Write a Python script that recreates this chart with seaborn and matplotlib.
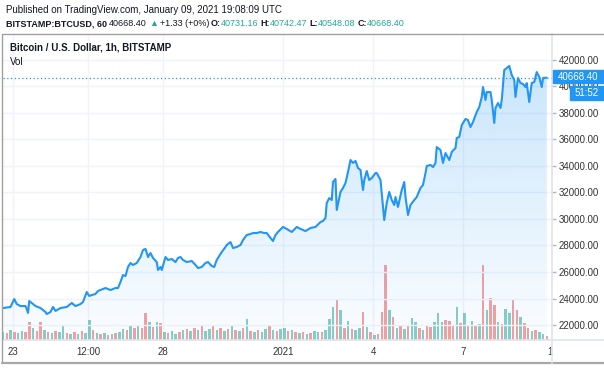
import numpy as np
import pandas as pd
import seaborn as sns
import matplotlib.pyplot as plt
from matplotlib import transforms
from matplotlib.colors import to_rgb
from matplotlib.lines import Line2D
from matplotlib.patches import Rectangle, Polygon

# price readings: hours after 2020-12-23 00:00 UTC and BTCUSD price
hours = [-8, -2, 1, 3, 6, 10, 11, 12, 13, 15,
         18, 22, 26, 27, 30, 32, 34, 38, 43, 47,
         50, 54, 56, 59, 61, 63, 66, 68, 74, 78,
         82, 84, 86, 88, 90, 92, 94, 96, 99, 102,
         104, 106, 108, 110, 112, 115, 116, 118, 119, 122,
         124, 127, 130, 132, 134, 136, 139, 143, 146, 148,
         151, 154, 156, 159, 161, 163, 167, 170, 171, 174,
         176, 179, 182, 184, 187, 190, 192, 195, 198, 201,
         203, 206, 208, 210, 212, 216, 219, 223, 227, 230,
         234, 238, 242, 246, 248, 250, 251, 253, 255, 256,
         258, 259, 262, 264, 266, 268, 270, 272, 274, 276,
         278, 280, 281, 283, 285, 287, 290, 291, 294, 295,
         297, 299, 301, 303, 305, 306, 308, 311, 313, 314,
         316, 318, 321, 323, 326, 328, 330, 331, 334, 336,
         338, 339, 342, 344, 346, 349, 351, 354, 355, 357,
         359, 362, 364, 366, 368, 371, 373, 375, 376, 378,
         379, 382, 383, 385, 386, 388, 390, 391, 393, 395,
         397, 399, 401, 402, 404, 406, 408, 410, 411, 413,
         415, 417, 419, 421, 423, 424, 427]
price = [23280, 23360, 23960, 23580, 23430, 23430, 23210, 22910, 23810, 23660,
         23430, 23280, 22980, 22830, 22980, 23360, 23060, 23280, 23360, 23660,
         23430, 23580, 23740, 24490, 24190, 24260, 24340, 24570, 24790, 24640,
         24790, 24790, 25250, 25770, 25700, 26380, 26680, 26530, 26680, 27130,
         27660, 27740, 27130, 27430, 27060, 26750, 26150, 26380, 26150, 27130,
         26910, 26980, 26750, 27060, 27130, 26910, 26750, 26830, 26530, 26300,
         26380, 26680, 26750, 26450, 26380, 26910, 27510, 27890, 28040, 28260,
         27810, 27890, 28040, 28410, 28790, 28870, 28940, 28940, 29020, 28940,
         28940, 28570, 28340, 28790, 29020, 29400, 29250, 29020, 29400, 29250,
         29090, 29320, 29400, 29770, 29850, 30080, 31210, 31580, 31430, 32790,
         33020, 30680, 32040, 32340, 32720, 33550, 34450, 34230, 34380, 33850,
         33700, 32190, 32940, 33620, 32940, 33090, 33470, 33470, 32940, 31960,
         29920, 31210, 32040, 31430, 31060, 31660, 30910, 32190, 32790, 31660,
         30300, 31060, 31430, 31660, 32340, 32570, 33470, 34000, 34080, 33920,
         34230, 35430, 35210, 34230, 34980, 34450, 35060, 35360, 36110, 36190,
         37090, 37550, 37470, 36940, 37320, 38080, 38450, 39210, 39960, 38980,
         39580, 39580, 38980, 37250, 38380, 38750, 38380, 38980, 41240, 41400,
         41550, 40870, 40490, 39210, 40640, 40260, 40190, 39960, 40260, 38830,
         40260, 40340, 41090, 40720, 39960, 40640, 40668.40]

# volume, one reading every 3 hours starting 2020-12-22 16:00
vol_start = -8
vol_step = 3
volume = [320, 280, 400, 320, 280, 360, 320, 720, 480, 360,
          720, 400, 320, 280, 360, 320, 600, 280, 240, 320,
          240, 360, 280, 800, 400, 280, 240, 280, 200, 240,
          280, 320, 440, 400, 600, 480, 600, 480, 1080, 720,
          520, 720, 680, 320, 280, 360, 240, 320, 400, 440,
          360, 480, 400, 560, 360, 440, 560, 400, 480, 360,
          440, 560, 400, 360, 480, 840, 360, 320, 400, 320,
          440, 560, 400, 360, 440, 480, 360, 400, 320, 280,
          320, 240, 280, 360, 320, 320, 400, 840, 1320, 1640,
          1200, 480, 760, 440, 400, 480, 1120, 520, 320, 200,
          240, 1120, 3040, 1200, 920, 480, 560, 440, 600, 880,
          720, 480, 400, 600, 520, 720, 1080, 720, 800, 760,
          560, 1320, 680, 1080, 560, 760, 600, 640, 3040, 1200,
          1720, 1400, 720, 640, 1240, 1080, 1640, 1200, 920, 680,
          480, 360, 400, 320, 240, 160]
# candle direction of each volume bar (u = up / green, d = down / red)
vol_dir = ('ududuuddud' 'dududuudud' 'uduudududu' 'duudududdu' 'dududuudud'
           'ududuududu' 'dududududu' 'ududuududu' 'duduuduuud' 'ududuududu'
           'dddudududu' 'ududduuudd' 'dududududu' 'dduduuddud' 'duduud')

price_ticks = [22000, 24000, 26000, 28000, 30000, 32000,
               34000, 36000, 38000, 40000, 42000]
time_ticks = [0, 60, 120, 216, 288, 360]
time_labels = ['23', '12:00', '28', '2021', '4', '7']
last_close = 40668.40
countdown = '51:52'

header = 'Published on TradingView.com, January 09, 2021 19:08:09 UTC'
title = 'Bitcoin / U.S. Dollar, 1h, BITSTAMP'

blue = '#2196f3'
teal = '#26a69a'
red = '#ef5350'
ink = '#131722'
grid = '#f0f3fa'

sns.set_style('white')
plt.rcParams['font.family'] = ['Liberation Sans', 'DejaVu Sans']

W, H = 604, 368
fig = plt.figure(figsize=(W / 100, H / 100), dpi=100)


def fx(px):
    return px / W


def fy(py):
    return 1 - py / H


ax = fig.add_axes([fx(3), fy(340), fx(552) - fx(3), fy(34) - fy(340)])
axv = ax.twinx()
ax.set_zorder(axv.get_zorder() + 1)
ax.patch.set_visible(False)

x0, x1 = -8, 431.2
y0, y1 = 20868, 43962

# volume bars
vol_hours = vol_start + vol_step * np.arange(len(volume))
bar_colors = [teal if d == 'u' else red for d in vol_dir]
axv.bar(vol_hours, volume, width=2.0, color=bar_colors, alpha=0.55, linewidth=0, zorder=2)
axv.set_ylim(0, max(volume) * 306 / 75)
axv.set_yticks([])
for s in axv.spines.values():
    s.set_visible(False)
for t in time_ticks + [432]:
    axv.axvline(t, color=grid, lw=1, zorder=0)

# gradient area under the line
rgba = np.zeros((256, 1, 4))
rgba[..., :3] = to_rgb(blue)
rgba[:, 0, 3] = np.linspace(0.27, 0.02, 256)
im = ax.imshow(rgba, extent=[x0, x1, y0, y1], aspect='auto', origin='upper',
               interpolation='bilinear', zorder=1)
verts = [(hours[0], y0)] + list(zip(hours, price)) + [(hours[-1], y0)]
poly = Polygon(verts, closed=True, facecolor='none', edgecolor='none')
ax.add_patch(poly)
im.set_clip_path(poly)

for p in price_ticks:
    ax.axhline(p, color=grid, lw=1, zorder=0)

df = pd.DataFrame({'hour': hours, 'price': price})
sns.lineplot(data=df, x='hour', y='price', ax=ax, color=blue, linewidth=1.5, zorder=3)
ax.axhline(last_close, color=blue, lw=0.9, ls=(0, (1, 2)), zorder=2)

ax.set_xlim(x0, x1)
ax.set_ylim(y0, y1)
ax.set_xlabel('')
ax.set_ylabel('')
ax.set_xticks(time_ticks)
ax.set_xticklabels(time_labels)
ax.tick_params(axis='x', length=0, pad=5, labelsize=7, labelcolor='#333333')
ax.yaxis.tick_right()
ax.set_yticks(price_ticks)
ax.set_yticklabels([f'{p:.2f}' for p in price_ticks])
ax.tick_params(axis='y', length=3, width=1, color='#b2b5be', pad=2,
               labelsize=7, labelcolor='#333333')
for side in ['top', 'left']:
    ax.spines[side].set_visible(False)
for side in ['right', 'bottom']:
    ax.spines[side].set_color('#e0e3eb')
    ax.spines[side].set_linewidth(1.2)

# the "10" date label is cut by the price scale column
ax.annotate('10', xy=(432, 0), xycoords=transforms.blended_transform_factory(ax.transData, ax.transAxes),
            xytext=(0, -5), textcoords='offset points', ha='center', va='top',
            fontsize=7, color='#333333', annotation_clip=False)
fig.add_artist(Rectangle((fx(553), fy(362)), fx(604) - fx(553), fy(341) - fy(362),
                         transform=fig.transFigure, color='white', zorder=10))

# frame and separators
fig.add_artist(Line2D([fx(2), fx(604)], [fy(33.5)] * 2, color='#a0a0a0', lw=1, zorder=11))
fig.add_artist(Line2D([fx(2)] * 2, [fy(33.5), fy(363)], color='#a0a0a0', lw=1, zorder=11))
fig.add_artist(Line2D([fx(2), fx(604)], [fy(363)] * 2, color='#a8a8a8', lw=1.6, zorder=11))
fig.add_artist(Line2D([fx(552)] * 2, [fy(340), fy(363)], color='#e0e3eb', lw=1.2, zorder=11))
fig.add_artist(Line2D([fx(552), fx(604)], [fy(340)] * 2, color='#e0e3eb', lw=1.2, zorder=11))

# last price and countdown tags
fig.add_artist(Rectangle((fx(553), fy(83)), fx(604) - fx(553), fy(70.5) - fy(83),
                         transform=fig.transFigure, color=blue, zorder=12))
fig.text(fx(578.5), fy(76.8), f'{last_close:.2f}', color='white', fontsize=7,
         ha='center', va='center', zorder=13)
fig.add_artist(Rectangle((fx(570), fy(100)), fx(604) - fx(570), fy(86) - fy(100),
                         transform=fig.transFigure, color=blue, zorder=12))
fig.text(fx(587), fy(93), countdown, color='white', fontsize=7,
         ha='center', va='center', zorder=13)

# header lines
fig.text(fx(6), fy(10), header, fontsize=7, color=ink, va='center')
segments = [('BITSTAMP:BTCUSD, 60', 'bold', ink, 2),
            ('40668.40', 'normal', ink, 2),
            ('\u25b2', 'normal', teal, 2),
            ('+1.33 (+0%)', 'normal', ink, 2),
            ('O:', 'bold', ink, 0), ('40731.16', 'normal', teal, 2),
            ('H:', 'bold', ink, 0), ('40742.47', 'normal', teal, 2),
            ('L:', 'bold', ink, 0), ('40548.08', 'normal', teal, 2),
            ('C:', 'bold', ink, 0), ('40668.40', 'normal', teal, 0)]
renderer = fig.canvas.get_renderer()
xpos = 6
for txt, weight, color, gap in segments:
    t = fig.text(fx(xpos), fy(24), txt, fontsize=6.5, fontweight=weight, color=color, va='center')
    xpos += t.get_window_extent(renderer).width + gap

fig.text(fx(10), fy(47), title, fontsize=7, fontweight='bold', color=ink, va='center')
fig.text(fx(10), fy(62), 'Vol', fontsize=7, color=ink, va='center')

fig.savefig('out.png', dpi=100, facecolor='white')
